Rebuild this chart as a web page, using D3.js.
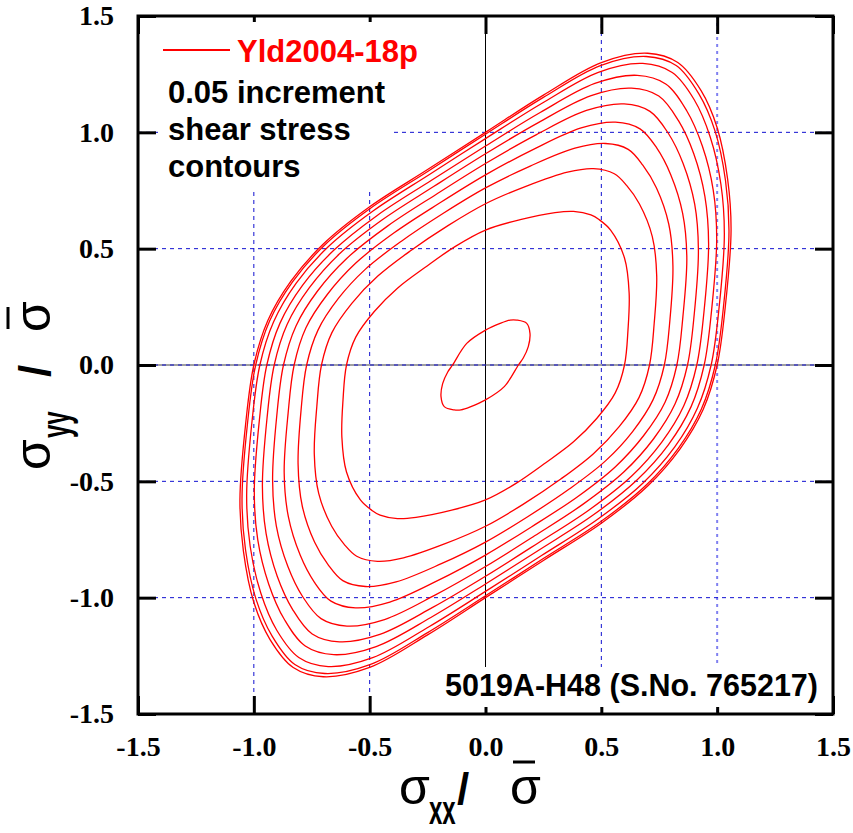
<!DOCTYPE html>
<html>
<head>
<meta charset="utf-8">
<script src="https://cdn.jsdelivr.net/npm/d3@7"></script>
<style>
  body { margin: 0; background: #fff; }
</style>
</head>
<body>
<svg id="chart" width="853" height="833"></svg>
<script>
// ticks and grid
const ticks = [-1.5, -1.0, -0.5, 0.0, 0.5, 1.0, 1.5];
const gridLines = [-1.0, -0.5, 0.5, 1.0];

const legendName = "Yld2004-18p";
const noteLines = ["0.05 increment", "shear stress", "contours"];
const specimen = "5019A-H48 (S.No. 765217)";

// shear stress contours, outermost (yield locus) first, [sxx, syy]
const c0 = [[1.00,0],[1.035,0.25],[1.06,0.58],[1.045,0.80],[1.00,1.02],[0.93,1.18],[0.83,1.30],[0.70,1.34],[0.50,1.30],[0.25,1.16],[0,1.00],[-0.25,0.84],[-0.50,0.68],[-0.70,0.52],[-0.84,0.36],[-0.94,0.19],
            [-1.00,0],[-1.035,-0.25],[-1.06,-0.58],[-1.045,-0.80],[-1.00,-1.02],[-0.93,-1.18],[-0.83,-1.30],[-0.70,-1.34],[-0.50,-1.30],[-0.25,-1.16],[0,-1.00],[0.25,-0.84],[0.50,-0.68],[0.70,-0.52],[0.84,-0.36],[0.94,-0.19]];
const c1 = [[0.992,0],[1.027,0.248],[1.051,0.575],[1.036,0.793],[0.991,1.005],[0.921,1.165],[0.823,1.287],[0.694,1.326],[0.496,1.287],[0.248,1.149],[0,0.992],[-0.248,0.833],[-0.495,0.675],[-0.694,0.516],[-0.833,0.357],[-0.932,0.189],
            [-0.992,0],[-1.027,-0.248],[-1.051,-0.575],[-1.036,-0.793],[-0.991,-1.005],[-0.921,-1.165],[-0.823,-1.287],[-0.694,-1.326],[-0.496,-1.287],[-0.248,-1.149],[0,-0.992],[0.248,-0.833],[0.495,-0.675],[0.694,-0.516],[0.833,-0.357],[0.932,-0.189]];
const c2 = [[0.974,0],[1.008,0.244],[1.031,0.562],[1.016,0.778],[0.970,0.980],[0.901,1.140],[0.806,1.257],[0.679,1.296],[0.487,1.258],[0.244,1.125],[0,0.973],[-0.242,0.819],[-0.484,0.663],[-0.679,0.508],[-0.817,0.352],[-0.915,0.185],
            [-0.974,0],[-1.008,-0.244],[-1.031,-0.562],[-1.016,-0.778],[-0.970,-0.980],[-0.901,-1.140],[-0.806,-1.257],[-0.679,-1.296],[-0.487,-1.258],[-0.244,-1.125],[0,-0.973],[0.242,-0.819],[0.484,-0.663],[0.679,-0.508],[0.817,-0.352],[0.915,-0.185]];
const c3 = [[0.944,0],[0.976,0.236],[0.998,0.542],[0.983,0.752],[0.936,0.941],[0.868,1.094],[0.778,1.208],[0.655,1.245],[0.472,1.210],[0.236,1.085],[0,0.941],[-0.233,0.794],[-0.466,0.644],[-0.655,0.493],[-0.790,0.342],[-0.887,0.180],
            [-0.944,0],[-0.976,-0.236],[-0.998,-0.542],[-0.983,-0.752],[-0.936,-0.941],[-0.868,-1.094],[-0.778,-1.208],[-0.655,-1.245],[-0.472,-1.210],[-0.236,-1.085],[0,-0.941],[0.233,-0.794],[0.466,-0.644],[0.655,-0.493],[0.790,-0.342],[0.887,-0.180]];
const c4 = [[0.912,0],[0.943,0.228],[0.963,0.521],[0.947,0.725],[0.899,0.908],[0.833,1.050],[0.748,1.156],[0.630,1.190],[0.456,1.158],[0.228,1.042],[0,0.908],[-0.224,0.767],[-0.447,0.623],[-0.630,0.478],[-0.761,0.331],[-0.856,0.175],
            [-0.912,0],[-0.943,-0.228],[-0.963,-0.521],[-0.947,-0.725],[-0.899,-0.908],[-0.833,-1.050],[-0.748,-1.156],[-0.630,-1.190],[-0.456,-1.158],[-0.228,-1.042],[0,-0.908],[0.224,-0.767],[0.447,-0.623],[0.630,-0.478],[0.761,-0.331],[0.856,-0.175]];
const c5 = [[0.872,0],[0.901,0.218],[0.919,0.494],[0.903,0.691],[0.853,0.866],[0.789,0.996],[0.710,1.090],[0.598,1.122],[0.436,1.094],[0.218,0.989],[0,0.866],[-0.212,0.734],[-0.423,0.597],[-0.598,0.459],[-0.725,0.318],[-0.818,0.168],
            [-0.872,0],[-0.901,-0.218],[-0.919,-0.494],[-0.903,-0.691],[-0.853,-0.866],[-0.789,-0.996],[-0.710,-1.090],[-0.598,-1.122],[-0.436,-1.094],[-0.218,-0.989],[0,-0.866],[0.212,-0.734],[0.423,-0.597],[0.598,-0.459],[0.725,-0.318],[0.818,-0.168]];
const c6 = [[0.826,0],[0.852,0.207],[0.869,0.463],[0.851,0.652],[0.800,0.817],[0.739,0.933],[0.667,1.015],[0.561,1.044],[0.413,1.019],[0.207,0.927],[0,0.817],[-0.198,0.696],[-0.396,0.567],[-0.561,0.437],[-0.683,0.303],[-0.775,0.160],
            [-0.826,0],[-0.852,-0.207],[-0.869,-0.463],[-0.851,-0.652],[-0.800,-0.817],[-0.739,-0.933],[-0.667,-1.015],[-0.561,-1.044],[-0.413,-1.019],[-0.207,-0.927],[0,-0.817],[0.198,-0.696],[0.396,-0.567],[0.561,-0.437],[0.683,-0.303],[0.775,-0.160]];
const c7 = [[0.772,0],[0.796,0.193],[0.809,0.426],[0.791,0.606],[0.738,0.761],[0.679,0.859],[0.616,0.927],[0.518,0.952],[0.386,0.932],[0.193,0.855],[0,0.761],[-0.182,0.652],[-0.363,0.532],[-0.518,0.412],[-0.635,0.286],[-0.723,0.150],
            [-0.772,0],[-0.796,-0.193],[-0.809,-0.426],[-0.791,-0.606],[-0.738,-0.761],[-0.679,-0.859],[-0.616,-0.927],[-0.518,-0.952],[-0.386,-0.932],[-0.193,-0.855],[0,-0.761],[0.182,-0.652],[0.363,-0.532],[0.518,-0.412],[0.635,-0.286],[0.723,-0.150]];
const c8 = [[0.708,0],[0.728,0.177],[0.739,0.383],[0.720,0.552],[0.664,0.693],[0.609,0.772],[0.556,0.822],[0.466,0.844],[0.354,0.829],[0.177,0.769],[0,0.693],[-0.162,0.599],[-0.325,0.490],[-0.466,0.381],[-0.577,0.265],[-0.663,0.139],
            [-0.708,0],[-0.728,-0.177],[-0.739,-0.383],[-0.720,-0.552],[-0.664,-0.693],[-0.609,-0.772],[-0.556,-0.822],[-0.466,-0.844],[-0.354,-0.829],[-0.177,-0.769],[0,-0.693],[0.162,-0.599],[0.325,-0.490],[0.466,-0.381],[0.577,-0.265],[0.663,-0.139]];
const c9 = [[0.60,0],[0.615,0.15],[0.62,0.31],[0.60,0.46],[0.54,0.58],[0.49,0.625],[0.455,0.645],[0.38,0.66],[0.30,0.655],[0.15,0.625],[0,0.58],[-0.13,0.51],[-0.26,0.42],[-0.38,0.33],[-0.48,0.23],[-0.56,0.12],
            [-0.60,0],[-0.615,-0.15],[-0.62,-0.31],[-0.60,-0.46],[-0.54,-0.58],[-0.49,-0.625],[-0.455,-0.645],[-0.38,-0.66],[-0.30,-0.655],[-0.15,-0.625],[0,-0.58],[0.13,-0.51],[0.26,-0.42],[0.38,-0.33],[0.48,-0.23],[0.56,-0.12]];
const c10 = [[0.142,0],[0.163,0.03],[0.185,0.08],[0.192,0.136],[0.178,0.179],[0.135,0.193],[0.106,0.193],[0.063,0.179],[0,0.150],[-0.081,0.093],
             [-0.142,0],[-0.163,-0.03],[-0.185,-0.08],[-0.192,-0.136],[-0.178,-0.179],[-0.135,-0.193],[-0.106,-0.193],[-0.063,-0.179],[0,-0.150],[0.081,-0.093]];

const contours = [c0, c1, c2, c3, c4, c5, c6, c7, c8, c9, c10];

const svg = d3.select("#chart");
const plot = { left: 138, right: 833, top: 16, bottom: 714 };

const x = d3.scaleLinear().domain([-1.5, 1.5]).range([plot.left, plot.right]);
const y = d3.scaleLinear().domain([-1.5, 1.5]).range([plot.bottom, plot.top]);

// grid
const grid = svg.append("g");
grid.selectAll(".vgrid").data(gridLines).join("line").attr("class", "vgrid")
    .attr("x1", d => x(d)).attr("x2", d => x(d))
    .attr("y1", plot.top).attr("y2", plot.bottom)
    .attr("stroke", d => d === 1.0 ? "#8080f0" : "#1010d0")
    .attr("stroke-width", d => d === 1.0 ? 2 : 1)
    .attr("stroke-dasharray", d => d === 1.0 ? "3,4" : "4,4");
grid.selectAll(".hgrid").data(gridLines).join("line").attr("class", "hgrid")
    .attr("y1", d => y(d)).attr("y2", d => y(d))
    .attr("x1", plot.left).attr("x2", plot.right)
    .attr("stroke", "#1010d0").attr("stroke-width", 1)
    .attr("stroke-dasharray", "4,4");

// zero lines
svg.append("line").attr("x1", x(0)).attr("x2", x(0)).attr("y1", plot.top).attr("y2", plot.bottom)
    .attr("stroke", "#000").attr("stroke-width", 1);
svg.append("line").attr("x1", plot.left).attr("x2", plot.right).attr("y1", y(0)).attr("y2", y(0))
    .attr("stroke", "#444").attr("stroke-width", 1.2);
svg.append("line").attr("x1", plot.left).attr("x2", plot.right).attr("y1", y(0)).attr("y2", y(0))
    .attr("stroke", "#1010d0").attr("stroke-width", 1).attr("stroke-dasharray", "4,4");

// contours
svg.append("clipPath").attr("id", "plotclip").append("rect")
    .attr("x", plot.left).attr("y", plot.top)
    .attr("width", plot.right - plot.left).attr("height", plot.bottom - plot.top);

const line = d3.line()
    .x(d => x(d[0]))
    .y(d => y(d[1]))
    .curve(d3.curveCatmullRomClosed.alpha(0.5));

svg.append("g").attr("clip-path", "url(#plotclip)")
    .selectAll(".contour").data(contours).join("path").attr("class", "contour")
    .attr("d", line)
    .attr("fill", "none")
    .attr("stroke", "#ff0000")
    .attr("stroke-width", 1.3);

// ticks (inside, all four sides)
const tickFmt = d => d.toFixed(1);
const tickFont = "'Liberation Serif', 'Times New Roman', serif";

const xAxis = svg.append("g").attr("transform", `translate(0,${plot.bottom})`)
    .call(d3.axisBottom(x).tickValues(ticks).tickSizeInner(-18).tickSizeOuter(0).tickPadding(22).tickFormat(tickFmt));
const xAxisTop = svg.append("g").attr("transform", `translate(0,${plot.top})`)
    .call(d3.axisTop(x).tickValues(ticks).tickSizeInner(-18).tickSizeOuter(0).tickFormat(""));
const yAxis = svg.append("g").attr("transform", `translate(${plot.left},0)`)
    .call(d3.axisLeft(y).tickValues(ticks).tickSizeInner(-18).tickSizeOuter(0).tickPadding(24).tickFormat(tickFmt));
const yAxisRight = svg.append("g").attr("transform", `translate(${plot.right},0)`)
    .call(d3.axisRight(y).tickValues(ticks).tickSizeInner(-18).tickSizeOuter(0).tickFormat(""));

[xAxis, xAxisTop, yAxis, yAxisRight].forEach(g => {
    g.select(".domain").remove();
    g.selectAll(".tick line").attr("stroke", "#000").attr("stroke-width", 3);
    g.selectAll(".tick text")
        .attr("fill", "#000")
        .style("font-family", tickFont)
        .style("font-weight", "bold")
        .style("font-size", "28px");
});

// white label boxes
svg.append("rect").attr("x", 158).attr("y", 22).attr("width", 232).attr("height", 166).attr("fill", "#fff");
svg.append("rect").attr("x", 433).attr("y", 667).attr("width", 395).attr("height", 40).attr("fill", "#fff");

// frame
svg.append("rect").attr("x", plot.left).attr("y", plot.top)
    .attr("width", plot.right - plot.left).attr("height", plot.bottom - plot.top)
    .attr("fill", "none").attr("stroke", "#000").attr("stroke-width", 3);

// legend and notes
const sans = "'Liberation Sans', Arial, sans-serif";
svg.append("line").attr("x1", 163).attr("x2", 230).attr("y1", 50).attr("y2", 50)
    .attr("stroke", "#ff0000").attr("stroke-width", 2);
svg.append("text").attr("x", 237).attr("y", 62).text(legendName)
    .style("font-family", sans).style("font-weight", "bold").style("font-size", "31px").attr("fill", "#ff0000");

svg.selectAll(".note").data(noteLines).join("text").attr("class", "note")
    .attr("x", 168).attr("y", (d, i) => 103 + i * 37)
    .text(d => d)
    .style("font-family", sans).style("font-weight", "bold").style("font-size", "31px").attr("fill", "#000");

svg.append("text").attr("x", 818).attr("y", 696).attr("text-anchor", "end").text(specimen)
    .style("font-family", sans).style("font-weight", "bold").style("font-size", "30.5px").attr("fill", "#000");

// axis titles: sigma_sub / sigma-bar
function axisTitle(g, sub, pos) {
    g.style("font-family", sans).attr("fill", "#000");
    g.append("text").attr("x", 0).attr("y", 0).text("σ").style("font-size", "50px");
    g.append("text").attr("transform", `translate(${pos.sub},20) scale(0.6,1)`).text(sub)
        .style("font-size", "40px").style("font-weight", "bold");
    g.append("text").attr("x", pos.slash).attr("y", 0).text("/")
        .style("font-size", "44px").style("font-weight", "bold");
    g.append("text").attr("x", pos.bar).attr("y", 0).text("σ").style("font-size", "50px");
    g.append("line")
        .attr("x1", pos.bar + 3).attr("x2", pos.bar + 25)
        .attr("y1", -42).attr("y2", -42)
        .attr("stroke", "#000").attr("stroke-width", 3);
}

axisTitle(svg.append("g").attr("transform", "translate(399,804)"), "xx", { sub: 30, slash: 58, bar: 111 });
axisTitle(svg.append("g").attr("transform", "translate(50,470) rotate(-90)"), "yy", { sub: 32, slash: 93, bar: 138 });
</script>
</body>
</html>
